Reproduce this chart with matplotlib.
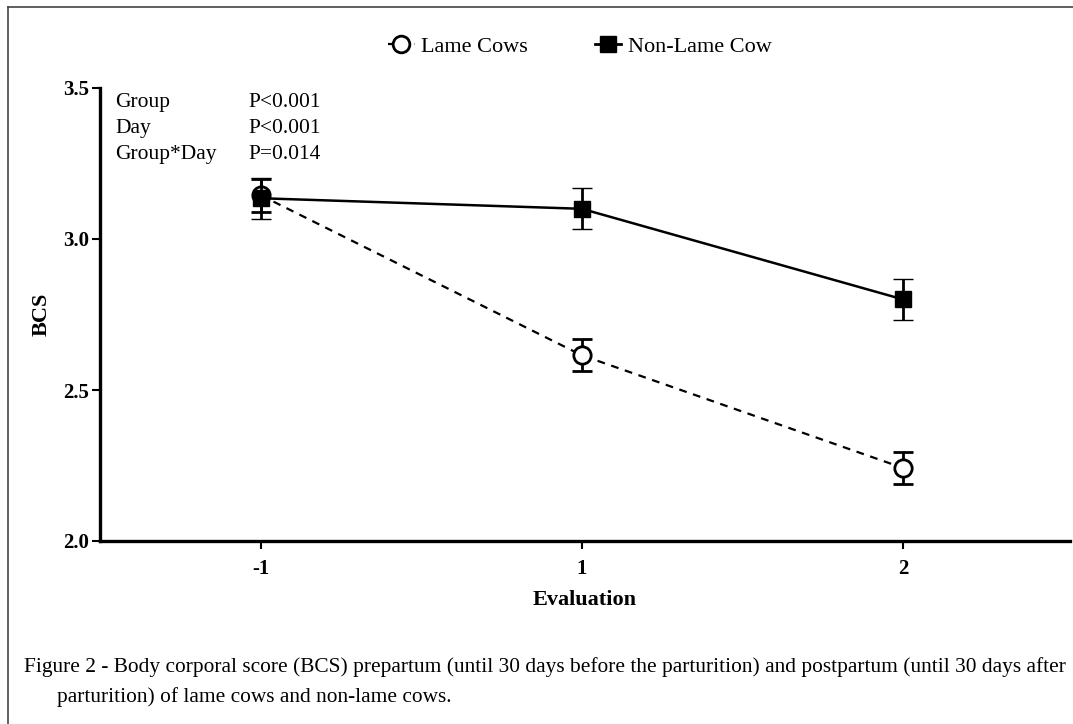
import matplotlib
matplotlib.use('Agg')
import matplotlib.pyplot as plt
from matplotlib.lines import Line2D

# data
evaluations = ['-1', '1', '2']
lame_bcs = [3.145, 2.615, 2.242]
lame_sem = [0.055, 0.053, 0.052]
nonlame_bcs = [3.135, 3.100, 2.800]
nonlame_sem = [0.068, 0.068, 0.068]

stats_labels = ['Group', 'Day', 'Group*Day']
stats_values = ['P<0.001', 'P<0.001', 'P=0.014']

caption_1 = ('Figure 2 - Body corporal score (BCS) prepartum (until 30 days before the '
             'parturition) and postpartum (until 30 days after')
caption_2 = 'parturition) of lame cows and non-lame cows.'

plt.rcParams['font.family'] = ['Liberation Serif', 'DejaVu Serif']

fig = plt.figure(figsize=(10.73, 7.24), dpi=100)
ax = fig.add_axes([100/1073, 1 - 541/724, (1070-100)/1073, (541-88)/724])

x = list(range(len(evaluations)))

ax.errorbar(x, lame_bcs, yerr=lame_sem, color='black', linestyle=(0, (3.5, 3)),
            linewidth=1.6, marker='o', markersize=12.5, markerfacecolor='white',
            markeredgewidth=2, capsize=7, capthick=2, elinewidth=2, zorder=3)
ax.errorbar(x, nonlame_bcs, yerr=nonlame_sem, color='black', linestyle='-',
            linewidth=1.8, marker='s', markersize=12, markerfacecolor='black',
            markeredgewidth=1, capsize=7, capthick=2, elinewidth=2, zorder=4)

ax.set_xlim(-0.5, 2.52)
ax.set_ylim(2.0, 3.5)
ax.set_xticks(x)
ax.set_xticklabels(evaluations)
ax.set_yticks([2.0, 2.5, 3.0, 3.5])
ax.set_yticklabels(['2.0', '2.5', '3.0', '3.5'])

for s in ['top', 'right']:
    ax.spines[s].set_visible(False)
for s in ['left', 'bottom']:
    ax.spines[s].set_linewidth(2.4)
ax.tick_params(axis='both', direction='out', length=6, width=1.5,
               labelsize=15)
for lab in ax.get_xticklabels() + ax.get_yticklabels():
    lab.set_fontweight('bold')
ax.tick_params(axis='x', pad=7)
ax.tick_params(axis='y', pad=2)

ax.set_ylabel('BCS', fontsize=16, fontweight='bold', labelpad=8)
ax.set_xlabel('Evaluation', fontsize=16, fontweight='bold', labelpad=8)

# statistics block
for i, (lab, val) in enumerate(zip(stats_labels, stats_values)):
    yy = 1 - (103 - 88 + i * 26) / (541 - 88)
    ax.text(15/970, yy, lab, transform=ax.transAxes, fontsize=15.5, va='center')
    ax.text(148/970, yy, val, transform=ax.transAxes, fontsize=15.5, va='center')

# legend above plot
handles = [
    Line2D([], [], color='black', linestyle=(0, (2, 2)), linewidth=1.6, marker='o',
           markersize=12, markerfacecolor='white', markeredgewidth=2),
    Line2D([], [], color='black', linestyle='-', linewidth=2, marker='s',
           markersize=12, markerfacecolor='black'),
]
fig.legend(handles, ['Lame Cows', 'Non-Lame Cow'], loc='center',
           bbox_to_anchor=(580/1073, 1 - 47/724), ncol=2, frameon=False,
           fontsize=16, handlelength=1.2, columnspacing=3.0, handletextpad=0.3)

# caption
fig.text(24/1073, 1 - 667/724, caption_1, fontsize=15.4, va='center')
fig.text(57/1073, 1 - 697/724, caption_2, fontsize=15.4, va='center')

# figure frame (left and top edges)
fig.add_artist(Line2D([8/1073, 8/1073], [0, 1 - 7/724], transform=fig.transFigure,
                      color='#444444', linewidth=1.2))
fig.add_artist(Line2D([8/1073, 1], [1 - 7/724, 1 - 7/724], transform=fig.transFigure,
                      color='#444444', linewidth=1.2))

fig.savefig('out.png', dpi=100)
